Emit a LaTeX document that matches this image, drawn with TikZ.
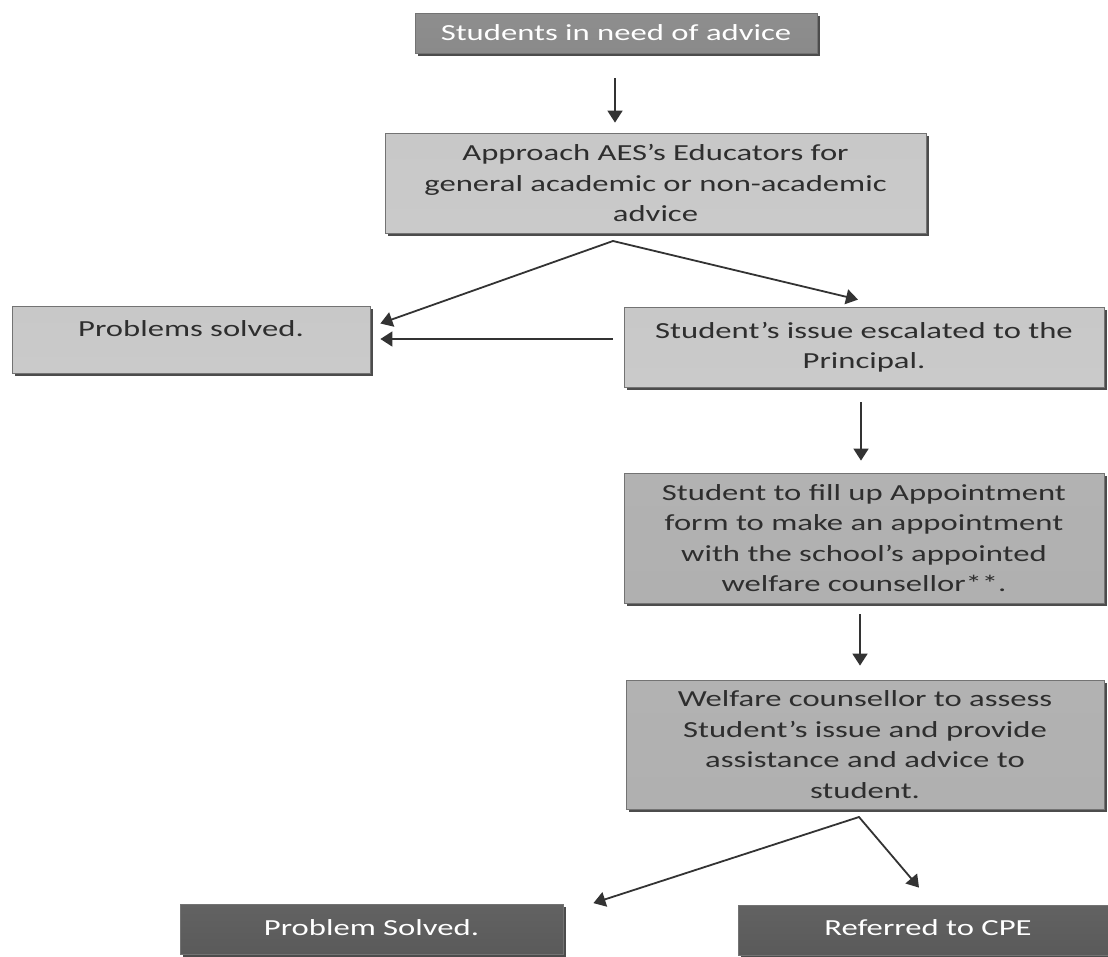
\documentclass[tikz,border=0pt]{standalone}
\usepackage{fontspec}
\setmainfont{Carlito}[FakeStretch=1.42]
\usetikzlibrary{arrows.meta,shadows}
\definecolor{txtdark}{HTML}{2E2E2E}
\definecolor{arrowcol}{HTML}{333333}
\definecolor{aTop}{HTML}{8E8E8E}
\definecolor{aMid}{HTML}{6A6A6A}
\definecolor{aBot}{HTML}{8A8A8A}
\definecolor{lTop}{HTML}{C8C8C8}
\definecolor{lMid}{HTML}{B4B4B4}
\definecolor{lBot}{HTML}{CACACA}
\definecolor{mTop}{HTML}{B2B2B2}
\definecolor{mMid}{HTML}{8A8A8A}
\definecolor{mBot}{HTML}{B0B0B0}
\definecolor{dTop}{HTML}{626262}
\definecolor{dMid}{HTML}{404040}
\definecolor{dBot}{HTML}{5A5A5A}
\begin{document}
\begin{tikzpicture}[x=1pt,y=-1pt,
  box/.style={draw=black!55, line width=0.8pt, inner sep=0pt, align=center,
    font=\fontsize{23}{30.5}\selectfont,
    drop shadow={shadow xshift=2.5pt, shadow yshift=-2.5pt, fill=black!70, opacity=1}},
  topbox/.style={box, top color=aTop, middle color=aMid, bottom color=aBot, text=white},
  lightbox/.style={box, top color=lTop, middle color=lMid, bottom color=lBot, text=txtdark},
  midbox/.style={box, top color=mTop, middle color=mMid, bottom color=mBot, text=txtdark},
  darkbox/.style={box, top color=dTop, middle color=dMid, bottom color=dBot, text=white},
  arr/.style={draw=arrowcol, line width=1.8pt, -{Triangle[width=15pt,length=12pt]}}
]
\path[use as bounding box] (0,0) rectangle (1108,956);
\clip (0,0) rectangle (1108,956);
\fill[white] (0,0) rectangle (1108,956);

\node[topbox, minimum width=402pt, minimum height=40pt] (b1) at (616,33) {Students in need of advice};
\node[lightbox, minimum width=541pt, minimum height=100pt] (b2) at (655.5,183)
  {Approach AES’s Educators for\\general academic or non-academic\\advice};
\node[lightbox, minimum width=358pt, minimum height=67pt] (b3) at (191,339.5)
  {\raisebox{11pt}[\height][\depth]{Problems solved.}};
\node[lightbox, minimum width=480pt, minimum height=80pt] (b4) at (864,347)
  {Student’s issue escalated to the\\Principal.};
\node[midbox, minimum width=480pt, minimum height=130pt] (b5) at (864,538)
  {Student to fill up Appointment\\form to make an appointment\\with the school’s appointed\\welfare counsellor**.};
\node[midbox, minimum width=478pt, minimum height=129pt] (b6) at (865,744.5)
  {Welfare counsellor to assess\\Student’s issue and provide\\assistance and advice to\\student.};
\node[darkbox, minimum width=383pt, minimum height=50pt] (b7) at (371.5,929.5)
  {\raisebox{2pt}[\height][\depth]{Problem Solved.}};
\node[darkbox, minimum width=380pt, minimum height=50pt] (b8) at (928,930)
  {\raisebox{2pt}[\height][\depth]{Referred to CPE}};

\coordinate (apexA) at (613,241);
\coordinate (apexB) at (859,817);

\draw[arr] ([shift={(-1,25)}]b1.south) -- ([shift={(-1,-10)}]b1.south |- b2.north);
\draw[arr, line cap=round] (apexA) -- ([shift={(10,-16)}]b3.east);
\draw[arr, line cap=round] (apexA) -- ([shift={(-6,-7)}]b4.north);
\draw[arr] ([shift={(-11,-8)}]b4.west) -- ([shift={(10,-0.5)}]b3.east);
\draw[arr] ([shift={(-3,15)}]b4.south) -- ([shift={(-3,-12)}]b5.north);
\draw[arr] ([shift={(-4,11)}]b5.south) -- ([shift={(-5,-14)}]b6.north);
\draw[arr, line cap=round] (apexB) -- ([shift={(30,-1)}]b7.north east);
\draw[arr, line cap=round] (apexB) -- ([shift={(-9,-17)}]b8.north);
\end{tikzpicture}
\end{document}
